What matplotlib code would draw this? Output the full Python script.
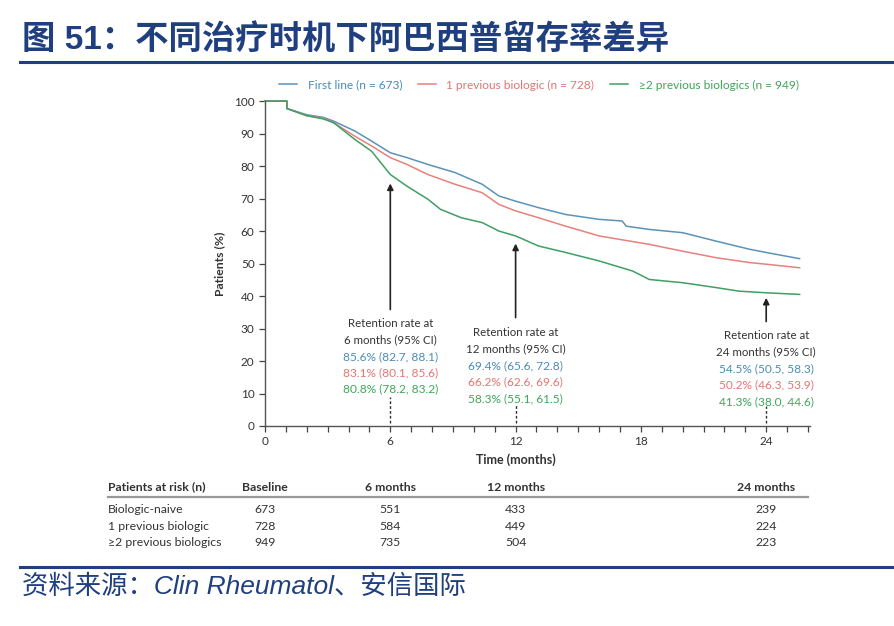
import matplotlib.pyplot as plt
from matplotlib.lines import Line2D
from matplotlib.transforms import blended_transform_factory

plt.rcParams['font.family'] = ['Lato', 'DejaVu Sans']

# curve readings (months, % patients)
blue_t = [0, 1.05, 1.05, 2, 2.8, 3.3, 4.3, 5.1, 6, 6.8, 7.8, 9.1, 10.4, 11.2, 12, 13.1, 14.4, 16, 17.1, 17.3, 18.4, 20, 21.6, 23.2, 24, 25.6]
blue_v = [100, 100, 97.7, 95.8, 95, 93.8, 90.8, 87.7, 84.1, 82.6, 80.5, 78, 74.4, 70.8, 69.2, 67.2, 65.1, 63.6, 63.1, 61.5, 60.5, 59.5, 56.9, 54.4, 53.4, 51.5]
red_t = [0, 1.05, 1.05, 2, 2.8, 3.3, 4.3, 5.1, 6, 6.8, 7.8, 9.1, 10.4, 11.2, 12, 13.1, 14.4, 16, 18.4, 20, 21.6, 23.2, 24, 25.6]
red_v = [100, 100, 97.7, 95.5, 94.8, 93.3, 89.2, 86.2, 82.6, 80.5, 77.4, 74.4, 71.8, 68.2, 66.2, 64.1, 61.5, 58.5, 55.9, 53.8, 51.8, 50.3, 49.8, 48.7]
green_t = [0, 1.05, 1.05, 2, 2.8, 3.3, 4.3, 5.1, 6, 6.8, 7.8, 8.4, 9.4, 10.4, 11.2, 12, 13.1, 14.4, 16, 17.6, 18.4, 20, 21.6, 22.7, 24, 25.6]
green_v = [100, 100, 97.7, 95.5, 94.5, 93.3, 88.2, 84.6, 77.4, 73.8, 69.8, 66.7, 64.1, 62.6, 60, 58.5, 55.4, 53.4, 50.8, 47.7, 45.1, 44.1, 42.6, 41.5, 41, 40.5]

labels = ['First line (n = 673)', '1 previous biologic (n = 728)', '\u22652 previous biologics (n = 949)']
line_cols = ['#5b93b8', '#e8807c', '#3f9f64']
text_cols = ['#4a8bb8', '#e57373', '#3da65a']

# retention annotations: month, arrow tip, arrow base, text lines
ann_month = [6, 12, 24]
ann_tip = [75.5, 57.0, 40.3]
ann_base = [35.0, 32.5, 31.3]
ann_head = [['Retention rate at', '6 months (95% CI)'],
            ['Retention rate at', '12 months (95% CI)'],
            ['Retention rate at', '24 months (95% CI)']]
ann_vals = [['85.6% (82.7, 88.1)', '83.1% (80.1, 85.6)', '80.8% (78.2, 83.2)'],
            ['69.4% (65.6, 72.8)', '66.2% (62.6, 69.6)', '58.3% (55.1, 61.5)'],
            ['54.5% (50.5, 58.3)', '50.2% (46.3, 53.9)', '41.3% (38.0, 44.6)']]
ann_top = [31.7, 28.9, 28.0]
dash_top = [8.8, 6.5, 6.0]

# patients at risk table
risk_cols = ['Baseline', '6 months', '12 months', '24 months']
risk_x = [0, 6, 12, 24]
risk_rows = ['Biologic-naive', '1 previous biologic', '\u22652 previous biologics']
risk_n = [[673, 551, 433, 239],
          [728, 584, 449, 224],
          [949, 735, 504, 223]]

fig = plt.figure(figsize=(8.95, 6.26), dpi=100)
ax = fig.add_axes([0.2961, 0.3195, 0.609, 0.519])

for t, v, c, lab in zip([blue_t, red_t, green_t], [blue_v, red_v, green_v], line_cols, labels):
    ax.plot(t, v, color=c, lw=1.1, label=lab, clip_on=False)

ax.set_xlim(0, 26.1)
ax.set_ylim(0, 100)
ax.set_xticks([0, 6, 12, 18, 24])
ax.set_xticks(range(0, 27), minor=True)
ax.set_yticks(range(0, 101, 10))
ax.tick_params(axis='both', which='both', direction='out', length=4, width=0.9,
               colors='#444', labelsize=8.5, labelcolor='#333')
for s in ['top', 'right']:
    ax.spines[s].set_visible(False)
for s in ['left', 'bottom']:
    ax.spines[s].set_color('#555')
    ax.spines[s].set_linewidth(1.0)
ax.set_xlabel('Time (months)', fontsize=9, fontweight='bold', color='#333', labelpad=3)
ax.xaxis.set_label_coords(12 / 26.1, -0.085)
ax.set_ylabel('Patients (%)', fontsize=8.8, fontweight='bold', color='#333', labelpad=6)

for i, m in enumerate(ann_month):
    ax.annotate('', xy=(m, ann_tip[i]), xytext=(m, ann_base[i]),
                arrowprops=dict(arrowstyle='-|>', color='#222', lw=1.2, mutation_scale=9))
    for j in range(2):
        ax.text(m, ann_top[i] - 5.2 * j, ann_head[i][j], ha='center', va='center',
                fontsize=8.3, color='#333')
    for j in range(3):
        ax.text(m, ann_top[i] - 10.4 - 5.0 * j, ann_vals[i][j], ha='center', va='center',
                fontsize=8.6, color=text_cols[j])
    ax.plot([m, m], [1, dash_top[i]], color='#333', lw=1.0, ls=(0, (2, 1.5)))

leg = fig.legend(loc='center', bbox_to_anchor=(0.602, 0.864), ncol=3, frameon=False,
                 fontsize=8.6, handlelength=1.5, handletextpad=0.9, columnspacing=1.3)
for txt, c in zip(leg.get_texts(), text_cols):
    txt.set_color(c)

# table
tr = blended_transform_factory(ax.transData, fig.transFigure)
fig.text(0.1207, 0.222, 'Patients at risk (n)', fontsize=8.8, fontweight='bold', color='#333', va='center')
for name, x in zip(risk_cols, risk_x):
    ax.text(x, 0.222, name, transform=tr, ha='center', va='center', fontsize=8.8,
            fontweight='bold', color='#333')
fig.add_artist(Line2D([0.1207, 0.9028], [0.206, 0.206], color='#999', lw=1.6))
row_y = [0.1869, 0.1597, 0.1326]
for r, name in enumerate(risk_rows):
    fig.text(0.1207, row_y[r], name, fontsize=8.8, color='#333', va='center')
    for x, n in zip(risk_x, risk_n[r]):
        ax.text(x, row_y[r], str(n), transform=tr, ha='center', va='center', fontsize=8.8, color='#333')

# title, rules and source
navy = '#1f3f7f'
cjk = ['Liberation Sans', 'Noto Sans CJK SC']
fig.text(0.0246, 0.936, '图 51：不同治疗时机下阿巴西普留存率差异', family=cjk, fontsize=24,
         fontweight='bold', color=navy, va='center')
fig.add_artist(Line2D([0.022, 1.0], [0.901, 0.901], color=navy, lw=2.2))
fig.add_artist(Line2D([0.022, 1.0], [0.0942, 0.0942], color=navy, lw=2.2))
fig.text(0.0246, 0.0623, '资料来源：Clin Rheumatol、安信国际', family=cjk, fontsize=19,
         style='italic', color=navy, va='center')

fig.savefig('out.png', dpi=100)
